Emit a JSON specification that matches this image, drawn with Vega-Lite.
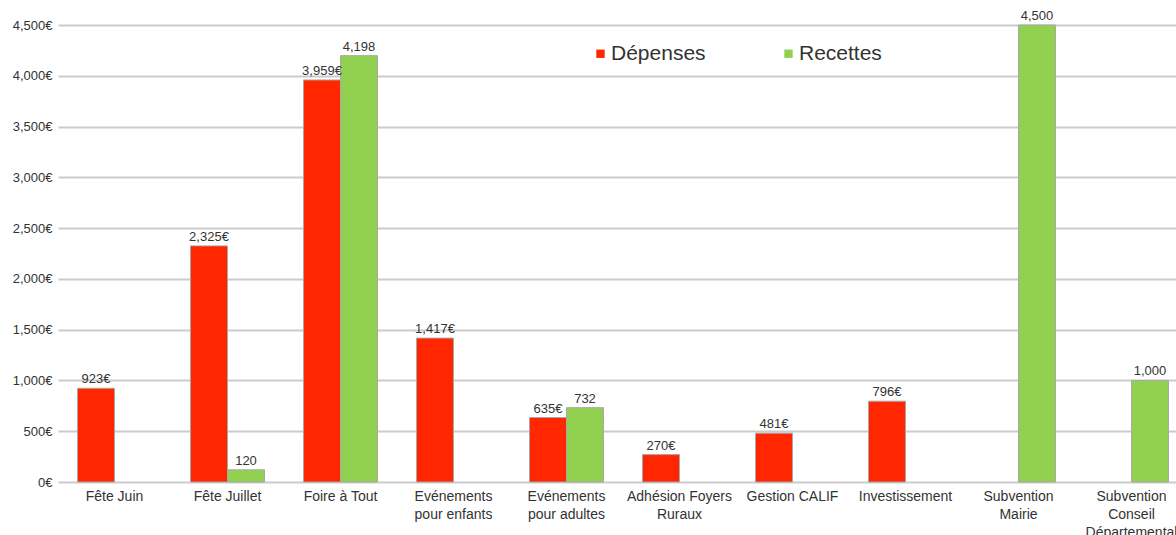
{
  "$schema": "https://vega.github.io/schema/vega-lite/v6.json",
  "width": 1118,
  "height": 457,
  "autosize": {"type": "none"},
  "padding": {"left": 58, "top": 25, "right": 0, "bottom": 53},
  "background": "white",
  "config": {
    "view": {"stroke": null},
    "font": "Liberation Sans",
    "locale": {"number": {"decimal": ".", "thousands": ",", "grouping": [3], "currency": ["", "€"]}}
  },
  "data": {
    "values": [
      {"categorie": "Fête Juin", "serie": "Dépenses", "montant": 923},
      {"categorie": "Fête Juillet", "serie": "Dépenses", "montant": 2325},
      {"categorie": "Fête Juillet", "serie": "Recettes", "montant": 120},
      {"categorie": "Foire à Tout", "serie": "Dépenses", "montant": 3959},
      {"categorie": "Foire à Tout", "serie": "Recettes", "montant": 4198},
      {"categorie": "Evénements|pour enfants", "serie": "Dépenses", "montant": 1417},
      {"categorie": "Evénements|pour adultes", "serie": "Dépenses", "montant": 635},
      {"categorie": "Evénements|pour adultes", "serie": "Recettes", "montant": 732},
      {"categorie": "Adhésion Foyers|Ruraux", "serie": "Dépenses", "montant": 270},
      {"categorie": "Gestion CALIF", "serie": "Dépenses", "montant": 481},
      {"categorie": "Investissement", "serie": "Dépenses", "montant": 796},
      {"categorie": "Subvention|Mairie", "serie": "Recettes", "montant": 4500},
      {"categorie": "Subvention|Conseil|Départemental", "serie": "Recettes", "montant": 1000}
    ]
  },
  "encoding": {
    "x": {
      "field": "categorie",
      "type": "nominal",
      "sort": null,
      "scale": {"range": [0, 1130], "paddingInner": 0.345, "paddingOuter": 0.1725},
      "axis": {
        "title": null,
        "domain": false,
        "ticks": false,
        "tickSize": 0,
        "labelAngle": 0,
        "labelExpr": "split(datum.value, '|')",
        "labelFontSize": 14,
        "labelColor": "#333333",
        "labelPadding": 7,
        "labelLineHeight": 18,
        "labelBaseline": "top",
        "labelLimit": 300
      }
    },
    "xOffset": {"field": "serie", "type": "nominal", "scale": {"domain": ["Dépenses", "Recettes"]}},
    "y": {
      "field": "montant",
      "type": "quantitative",
      "scale": {"domain": [0, 4500], "nice": false},
      "axis": {
        "title": null,
        "values": [0, 500, 1000, 1500, 2000, 2500, 3000, 3500, 4000, 4500],
        "format": "$,.0f",
        "domain": false,
        "ticks": false,
        "tickSize": 0,
        "labelPadding": 6,
        "labelFontSize": 13,
        "labelColor": "#333333",
        "gridColor": "#cccccc",
        "gridWidth": 2
      }
    }
  },
  "layer": [
    {
      "mark": {"type": "bar", "stroke": "#a8a8a8", "strokeWidth": 1},
      "encoding": {
        "color": {
          "field": "serie",
          "type": "nominal",
          "scale": {"domain": ["Dépenses", "Recettes"], "range": ["#ff2600", "#92d050"]},
          "legend": {
            "title": null,
            "orient": "none",
            "direction": "horizontal",
            "legendX": 532,
            "legendY": 18,
            "symbolType": "square",
            "symbolSize": 70,
            "symbolStrokeWidth": 0,
            "labelFontSize": 21,
            "labelColor": "#333333",
            "labelOffset": 0,
            "columnPadding": 72
          }
        }
      }
    },
    {
      "transform": [{"filter": "datum.serie == 'Dépenses'"}],
      "mark": {"type": "text", "baseline": "bottom", "dy": -2, "fontSize": 13, "color": "#333333"},
      "encoding": {"text": {"field": "montant", "type": "quantitative", "format": "$,.0f"}}
    },
    {
      "transform": [{"filter": "datum.serie == 'Recettes'"}],
      "mark": {"type": "text", "baseline": "bottom", "dy": -2, "fontSize": 13, "color": "#333333"},
      "encoding": {"text": {"field": "montant", "type": "quantitative", "format": ",.0f"}}
    }
  ]
}
